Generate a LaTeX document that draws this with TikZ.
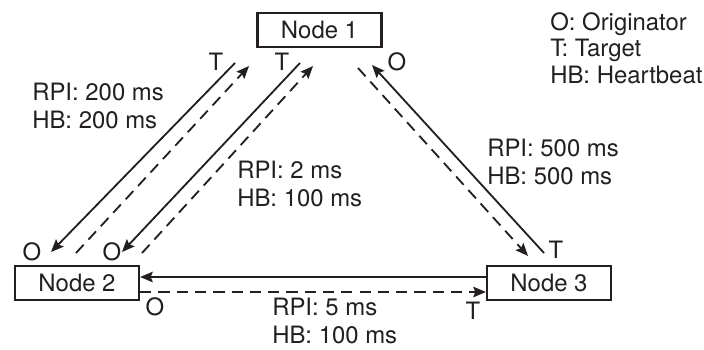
\documentclass[tikz,border=0pt]{standalone}
\usepackage{fontspec}
\setmainfont{TeX Gyre Heros}
\usetikzlibrary{arrows.meta,positioning,calc}
\definecolor{ink}{RGB}{35,31,32}
\tikzset{
  nodebox/.style={draw=ink, line width=1.6pt, minimum width=3.1cm, minimum height=0.84cm,
                  inner sep=0pt, text=ink, font=\fontsize{17}{20}\selectfont},
  lbl/.style={inner sep=0pt, text=ink, font=\fontsize{17}{20}\selectfont},
  info/.style={lbl, align=left, anchor=west},
  req/.style={-{Stealth[length=9pt,width=7.5pt,inset=1.5pt]}, ink, line width=1.3pt},
  hbeat/.style={req, dash pattern=on 8pt off 5pt},
}

\begin{document}
\begin{tikzpicture}[x=0.025cm, y=-0.025cm]
  \useasboundingbox (0,0) rectangle (704,349);

  % nodes
  \node[nodebox] (n1) at (319.5,30) {Node 1};
  \node[nodebox] (n2) at (77,283) {Node 2};
  \node[nodebox] (n3) at (549,283) {Node 3};

  % arrow ends
  \coordinate (a1) at (235,63);  \coordinate (a2) at (51,252);
  \coordinate (b1) at (76,253);  \coordinate (b2) at (249,66);
  \coordinate (c1) at (300,63);  \coordinate (c2) at (122,252);
  \coordinate (d1) at (142,253); \coordinate (d2) at (313,66);
  \coordinate (e1) at (544,253); \coordinate (e2) at (372,65);
  \coordinate (f1) at (358,68);  \coordinate (f2) at (528,256);

  % node 1 <-> node 2
  \draw[req] (a1) -- (a2);
  \draw[hbeat] (b1) -- (b2);
  \draw[req] (c1) -- (c2);
  \draw[hbeat] (d1) -- (d2);
  % node 1 <-> node 3
  \draw[req] (e1) -- (e2);
  \draw[hbeat] (f1) -- (f2);
  % node 2 <-> node 3
  \draw[req] ($(n3.west)+(0,-6)$) -- ($(n2.east)+(0,-6)$);
  \draw[hbeat] ($(n2.east)+(0,9)$) -- ($(n3.west)+(0,9)$);

  % originator / target marks
  \node[lbl] (t1) at (216,62) {T};
  \node[lbl] (t2) at (282,62) {T};
  \node[lbl] (o3) at (397,62) {O};
  \node[lbl] (o1) at (32,252) {O};
  \node[lbl] (o2) at (112,252) {O};
  \node[lbl] (t3) at (556,250) {T};
  \node[lbl] (o4) at (155,307) {O};
  \node[lbl] (t4) at (473,311) {T};

  % timing labels
  \node[info] (p12a) at (32,106) {RPI: 200 ms\\HB: 200 ms};
  \node[info] (p12b) at (237,184) {RPI: 2 ms\\HB: 100 ms};
  \node[info] (p13) at (487,162) {RPI: 500 ms\\HB: 500 ms};
  \node[info] (p23) at (272,321) {RPI: 5 ms\\HB: 100 ms};

  % legend
  \node[info, font=\fontsize{17}{19}\selectfont] (legend) at (550,48)
    {O: Originator\\T: Target\\HB: Heartbeat};
\end{tikzpicture}
\end{document}
